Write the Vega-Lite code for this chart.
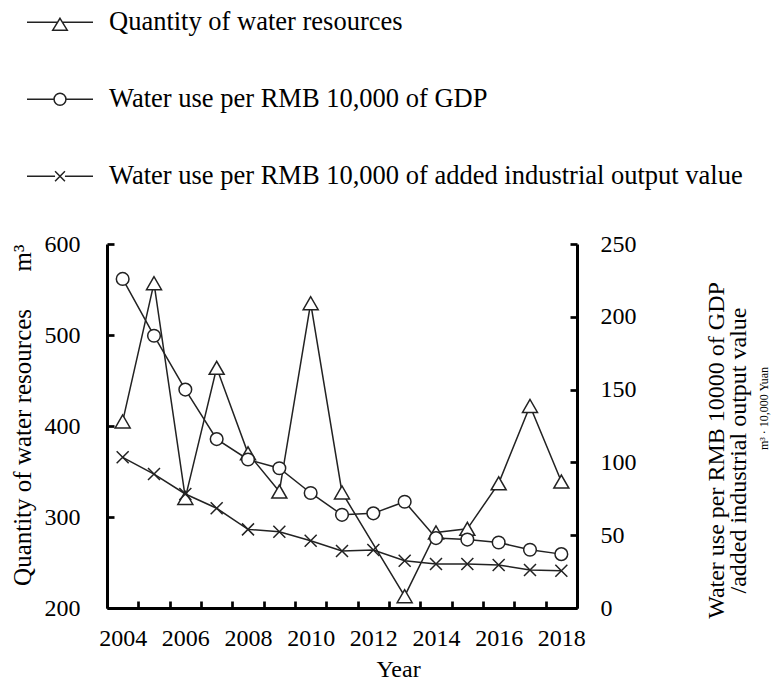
{
  "$schema": "https://vega.github.io/schema/vega-lite/v6.json",
  "width": 470,
  "height": 364,
  "autosize": {"type": "none"},
  "padding": {"left": 107, "top": 244, "right": 197, "bottom": 72},
  "background": "white",
  "config": {
    "view": {"stroke": null},
    "font": "Liberation Serif",
    "axis": {
      "grid": false,
      "labelFont": "Liberation Serif",
      "titleFont": "Liberation Serif",
      "labelColor": "black",
      "titleColor": "black",
      "titleFontWeight": "normal",
      "domainColor": "black",
      "tickColor": "black",
      "domainWidth": 3,
      "tickWidth": 2.7,
      "tickSize": -7,
      "labelFontSize": 24,
      "titleFontSize": 24
    }
  },
  "data": {
    "values": [
      {"year": 2004, "water": 405, "gdp": 226, "ind": 103.5},
      {"year": 2005, "water": 557, "gdp": 187, "ind": 92},
      {"year": 2006, "water": 321, "gdp": 150, "ind": 78.3},
      {"year": 2007, "water": 464, "gdp": 116, "ind": 68.5},
      {"year": 2008, "water": 370, "gdp": 102, "ind": 54},
      {"year": 2009, "water": 328, "gdp": 96, "ind": 52.4},
      {"year": 2010, "water": 535, "gdp": 79, "ind": 46.2},
      {"year": 2011, "water": 327, "gdp": 64, "ind": 39.1},
      {"year": 2012, "water": null, "gdp": 65, "ind": 39.8},
      {"year": 2013, "water": 213, "gdp": 73, "ind": 32.5},
      {"year": 2014, "water": 283, "gdp": 48, "ind": 30.2},
      {"year": 2015, "water": 287, "gdp": 47, "ind": 30.2},
      {"year": 2016, "water": 337, "gdp": 45, "ind": 29.5},
      {"year": 2017, "water": 422, "gdp": 40, "ind": 26.1},
      {"year": 2018, "water": 339, "gdp": 37, "ind": 25.6}
    ]
  },
  "encoding": {
    "x": {
      "field": "year",
      "type": "ordinal",
      "bandPosition": 0.5,
      "scale": {"type": "band", "paddingInner": 0, "paddingOuter": 0},
      "axis": {
        "title": "Year",
        "tickBand": "extent",
        "labelExpr": "datum.value % 2 == 0 ? datum.label : ''",
        "labelAngle": 0,
        "labelOverlap": false,
        "labelPadding": 44,
        "labelBaseline": "alphabetic",
        "titleX": 291,
        "titleY": 68,
        "titleBaseline": "alphabetic",
        "titleAlign": "center"
      }
    }
  },
  "layer": [
    {
      "transform": [{"filter": {"field": "water", "valid": true}}],
      "encoding": {
        "y": {
          "field": "water",
          "type": "quantitative",
          "scale": {"domain": [200, 600], "nice": false, "zero": false},
          "axis": {
            "orient": "left",
            "values": [200, 300, 400, 500, 600],
            "labelPadding": 34,
            "title": "Quantity of water resources\u00a0\u00a0\u00a0\u00a0\u00a0\u00a0m³",
            "titleFontSize": 25,
            "titleAngle": 270,
            "titleX": -77,
            "titleY": 0,
            "titleAlign": "right",
            "titleBaseline": "alphabetic"
          }
        }
      },
      "layer": [
        {"mark": {"type": "line", "color": "#222", "strokeWidth": 1.5}, "encoding": {}},
        {"mark": {"type": "point", "shape": "triangle-up", "size": 225, "filled": true, "fill": "white", "stroke": "#222", "strokeWidth": 1.5, "opacity": 1}, "encoding": {}}
      ]
    },
    {
      "encoding": {
        "y": {
          "field": "gdp",
          "type": "quantitative",
          "scale": {"domain": [0, 250], "nice": false},
          "axis": {
            "orient": "right",
            "values": [0, 50, 100, 150, 200, 250],
            "labelPadding": 30,
            "title": ["Water use per RMB 10000 of GDP", "/added industrial output value"],
            "titleFontSize": 24,
            "titleLineHeight": 22,
            "titleAngle": 270,
            "titleX": 146,
            "titleY": 206,
            "titleAlign": "center",
            "titleBaseline": "alphabetic"
          }
        }
      },
      "layer": [
        {"mark": {"type": "line", "color": "#222", "strokeWidth": 1.5}, "encoding": {}},
        {"mark": {"type": "point", "shape": "circle", "size": 160, "filled": true, "fill": "white", "stroke": "#222", "strokeWidth": 1.5, "opacity": 1}, "encoding": {}}
      ]
    },
    {
      "encoding": {
        "y": {
          "field": "ind",
          "type": "quantitative",
          "scale": {"domain": [0, 250], "nice": false},
          "axis": {
            "orient": "right",
            "labels": false,
            "ticks": false,
            "domain": false,
            "title": "m³ · 10,000 Yuan",
            "titleFontSize": 12,
            "titleAngle": 270,
            "titleX": 190,
            "titleY": 164,
            "titleAlign": "center",
            "titleBaseline": "alphabetic"
          }
        }
      },
      "layer": [
        {"mark": {"type": "line", "color": "#222", "strokeWidth": 1.5}, "encoding": {}},
        {"mark": {"type": "point", "shape": "M-1,-1L1,1M-1,1L1,-1", "size": 144, "filled": false, "stroke": "#222", "strokeWidth": 1.5, "opacity": 1}, "encoding": {}}
      ]
    },
    {
      "transform": [{"filter": "false"}],
      "mark": {"type": "point", "size": 4356, "filled": false, "stroke": "#222", "strokeWidth": 1.5, "opacity": 1},
      "encoding": {
        "shape": {
          "field": "series",
          "type": "nominal",
          "scale": {
            "domain": ["Quantity of water resources", "Water use per RMB 10,000 of GDP", "Water use per RMB 10,000 of added industrial output value"],
            "range": [
              "M-1,0H-0.075M0.075,0H1M0,-0.12L0.22,0.24L-0.22,0.24Z",
              "M-1,0H-0.18M0.18,0H1M0.18,0A0.18,0.18,0,1,1,-0.18,0A0.18,0.18,0,1,1,0.18,0Z",
              "M-1,0H-0.15M0.15,0H1M-0.15,-0.15L0.15,0.15M-0.15,0.15L0.15,-0.15"
            ]
          },
          "legend": {
            "orient": "none",
            "legendX": -81,
            "legendY": -260,
            "direction": "vertical",
            "title": null,
            "padding": 0,
            "labelFont": "Liberation Serif",
            "labelFontSize": 26.5,
            "labelColor": "black",
            "labelLimit": 1000,
            "labelOffset": 15,
            "symbolSize": 4356,
            "symbolStrokeColor": "#222",
            "symbolStrokeWidth": 1.5,
            "symbolOffset": 0,
            "clipHeight": 76.5,
            "rowPadding": 0
          }
        }
      }
    }
  ],
  "resolve": {"scale": {"y": "independent"}}
}
